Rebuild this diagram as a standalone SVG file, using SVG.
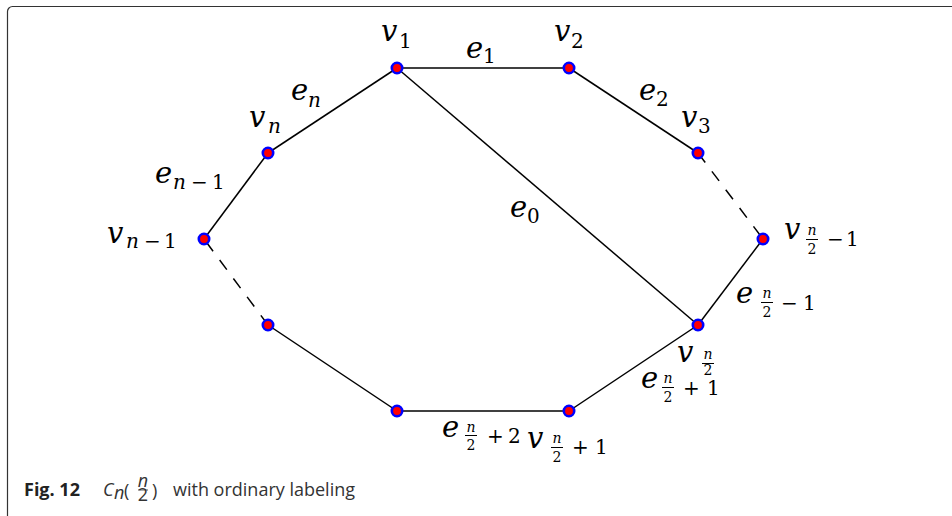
<svg xmlns="http://www.w3.org/2000/svg" width="952" height="516" viewBox="0 0 952 516">
<style>
.m{font-size:29px;font-style:italic;fill:#000}
.s{font-size:20px;font-style:normal;fill:#000}
.si{font-size:20px;font-style:italic;fill:#000}
.fn{font-size:14px;font-style:italic;fill:#000;text-anchor:middle}
.fd{font-size:14px;font-style:normal;fill:#000;text-anchor:middle}
.bar{stroke:#000;stroke-width:1}
.edge{stroke:#000;stroke-width:1.5;fill:none}
.dash{stroke-dasharray:12 11}
.node{fill:#ff0000;stroke:#0000ff;stroke-width:2.6}
.cap{font-size:18px;fill:#333}
.capb{font-size:18px;font-weight:bold;fill:#222}
</style>
<rect x="7.5" y="6.5" width="970" height="530" rx="5" fill="#fff" stroke="#333" stroke-width="1.2"/>
<g id="connectors">
<line class="edge" x1="397" y1="68" x2="569" y2="68"/>
<line class="edge" x1="569" y1="68" x2="698" y2="153"/>
<line class="edge dash" x1="698" y1="153" x2="763" y2="239"/>
<line class="edge" x1="763" y1="239" x2="698" y2="325"/>
<line class="edge" x1="397" y1="68" x2="698" y2="325"/>
<line class="edge" x1="698" y1="325" x2="569" y2="411"/>
<line class="edge" x1="569" y1="411" x2="397" y2="411"/>
<line class="edge" x1="397" y1="411" x2="268" y2="325"/>
<line class="edge dash" x1="268" y1="325" x2="204" y2="239"/>
<line class="edge" x1="204" y1="239" x2="268" y2="153"/>
<line class="edge" x1="268" y1="153" x2="397" y2="68"/>
</g>
<g font-family="'DejaVu Serif', serif">
<g id="edge-labels">
<text class="m" x="466" y="58">e</text><text class="s" x="483" y="63">1</text>
<text class="m" x="639" y="100">e</text><text class="s" x="656" y="106">2</text>
<text class="m" x="291" y="100">e</text><text class="si" x="308" y="107">n</text>
<text class="m" x="155" y="183">e</text><text class="si" x="173" y="189">n</text><text class="s" x="191" y="189">−</text><text class="s" x="212" y="189">1</text>
<text class="m" x="510" y="217">e</text><text class="s" x="527" y="223">0</text>
<text class="m" x="736" y="303">e</text><text class="fn" x="767" y="298">n</text><line class="bar" x1="761" y1="302.5" x2="773" y2="302.5"/><text class="fd" x="767" y="317">2</text><text class="s" x="781" y="310">−</text><text class="s" x="803" y="310">1</text>
<text class="m" x="641" y="388">e</text><text class="fn" x="668" y="383">n</text><line class="bar" x1="662" y1="387.5" x2="674" y2="387.5"/><text class="fd" x="668" y="402">2</text><text class="s" x="683" y="395">+</text><text class="s" x="707" y="395">1</text>
<text class="m" x="442" y="437">e</text><text class="fn" x="471" y="432">n</text><line class="bar" x1="465" y1="435.5" x2="477" y2="435.5"/><text class="fd" x="471" y="450">2</text><text class="s" x="487" y="443">+</text><text class="s" x="508" y="443">2</text>
</g>
<g id="v1"><circle class="node" cx="397" cy="68" r="5.2"/><text class="m" x="381" y="41">v</text><text class="s" x="399" y="48">1</text></g>
<g id="v2"><circle class="node" cx="569" cy="68" r="5.2"/><text class="m" x="554" y="41">v</text><text class="s" x="571" y="48">2</text></g>
<g id="v3"><circle class="node" cx="698" cy="153" r="5.2"/><text class="m" x="681" y="127">v</text><text class="s" x="698" y="133">3</text></g>
<g id="vn"><circle class="node" cx="268" cy="153" r="5.2"/><text class="m" x="249" y="127">v</text><text class="si" x="268" y="133">n</text></g>
<g id="vn-1"><circle class="node" cx="204" cy="239" r="5.2"/><text class="m" x="107" y="243">v</text><text class="si" x="126" y="248">n</text><text class="s" x="144" y="248">−</text><text class="s" x="164" y="248">1</text></g>
<g id="vhalf-1"><circle class="node" cx="763" cy="239" r="5.2"/><text class="m" x="784" y="239">v</text><text class="fn" x="812" y="235">n</text><line class="bar" x1="806" y1="239.5" x2="818" y2="239.5"/><text class="fd" x="812" y="254">2</text><text class="s" x="827" y="246">−</text><text class="s" x="846" y="246">1</text></g>
<g id="vhalf"><circle class="node" cx="698" cy="325" r="5.2"/><text class="m" x="677" y="362">v</text><text class="fn" x="708" y="359">n</text><line class="bar" x1="702" y1="363.5" x2="714" y2="363.5"/><text class="fd" x="708" y="375">2</text></g>
<g id="vhalf+1"><circle class="node" cx="569" cy="411" r="5.2"/><text class="m" x="527" y="448">v</text><text class="fn" x="557" y="443">n</text><line class="bar" x1="551" y1="447.5" x2="563" y2="447.5"/><text class="fd" x="557" y="462">2</text><text class="s" x="572" y="454">+</text><text class="s" x="595" y="454">1</text></g>
</g>
<g id="vhalf+2"><circle class="node" cx="397" cy="411" r="5.2"/></g>
<g id="vn-2"><circle class="node" cx="268" cy="325" r="5.2"/></g>
<g id="caption" font-family="'Open Sans', sans-serif">
<text class="capb" x="24" y="496">Fig. 12</text>
<text class="cap" x="103" y="496" font-style="italic">C</text><text class="cap" x="114" y="499" font-size="13" font-style="italic">n</text>
<text class="cap" x="124" y="497" font-size="22">(</text>
<text class="cap" x="143" y="487" font-size="11" font-style="italic" text-anchor="middle">n</text>
<line x1="138" y1="490" x2="148" y2="490" stroke="#333" stroke-width="0.8"/>
<text class="cap" x="143" y="501" font-size="11" text-anchor="middle">2</text>
<text class="cap" x="152" y="497" font-size="22">)</text>
<text class="cap" x="173" y="496">with ordinary labeling</text>
</g>
</svg>
